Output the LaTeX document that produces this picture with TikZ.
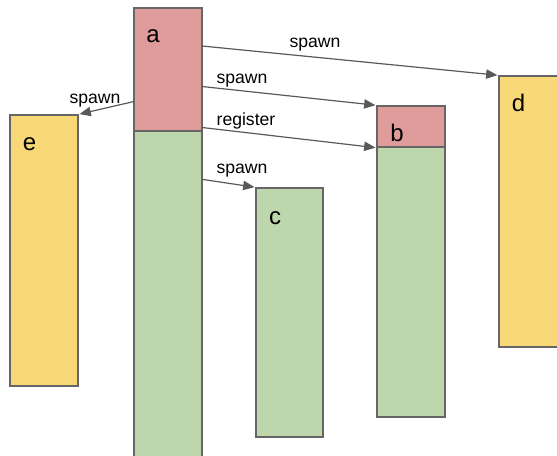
\documentclass[tikz,border=0pt]{standalone}
\usepackage{fontspec}
\setmainfont{Liberation Sans}
\usetikzlibrary{arrows.meta,fit}

\definecolor{spanred}{HTML}{E09C9B}
\definecolor{spangreen}{HTML}{BDD6AB}
\definecolor{spanyellow}{HTML}{F9D878}
\definecolor{edgegray}{HTML}{666666}
\definecolor{arrowgray}{HTML}{595959}

\tikzset{
  box/.style={draw=edgegray, line width=1.1pt, inner sep=0pt},
  redbox/.style={box, fill=spanred},
  greenbox/.style={box, fill=spangreen},
  yellowbox/.style={box, fill=spanyellow},
  letter/.style={anchor=base, inner sep=0pt, font=\fontsize{18}{20}\selectfont},
  tag/.style={anchor=base, inner sep=0pt, font=\fontsize{13.2}{15}\selectfont},
  arr/.style={draw=arrowgray, line width=0.9pt,
    -{Triangle[length=8.5pt,width=7pt]}, shorten >=0.6pt},
}

\begin{document}
\begin{tikzpicture}[x=0.75pt, y=-0.75pt]
  \useasboundingbox (0,0) rectangle (557,456);
  \clip (0,0) rectangle (557,456);

  % span a: red head, long green tail running off the bottom
  \node[greenbox, fit={(134,131) (202,470)}] (abody) {};
  \node[redbox, fit={(134,8) (202,131)}] (atop) {};
  % span b
  \node[greenbox, fit={(377,147) (445,417)}] (bbody) {};
  \node[redbox, fit={(377,106) (445,147)}] (btop) {};
  % span c
  \node[greenbox, fit={(256,188) (323,437)}] (c) {};
  % spans d and e
  \node[yellowbox, fit={(499,76) (570,347)}] (d) {};
  \node[yellowbox, fit={(10,115) (78,386)}] (e) {};

  % span names
  \node[letter] (la) at (153,43) {a};
  \node[letter] (lb) at (397,142) {b};
  \node[letter] (lc) at (275,224) {c};
  \node[letter] (ld) at (518.5,111.5) {d};
  \node[letter] (le) at (29.5,151) {e};

  % anchor points on span a
  \coordinate (s1) at (202,46);
  \coordinate (s2) at (202,86.5);
  \coordinate (s3) at (202,127.5);
  \coordinate (s4) at (203,179.5);
  \coordinate (s5) at (134,101.5);

  % relations
  \draw[arr] (s1) -- (d.north west);
  \draw[arr] (s2) -- (btop.north west);
  \draw[arr] (s3) -- (btop.south west);
  \draw[arr] (s4) -- (c.north west);
  \draw[arr] (s5) -- (e.north east);

  \node[tag] (t1) at (315,47.5) {spawn};
  \node[tag] (t2) at (242,83.3) {spawn};
  \node[tag] (t3) at (246,126) {register};
  \node[tag] (t4) at (242,173.3) {spawn};
  \node[tag] (t5) at (95,103.3) {spawn};
\end{tikzpicture}
\end{document}
